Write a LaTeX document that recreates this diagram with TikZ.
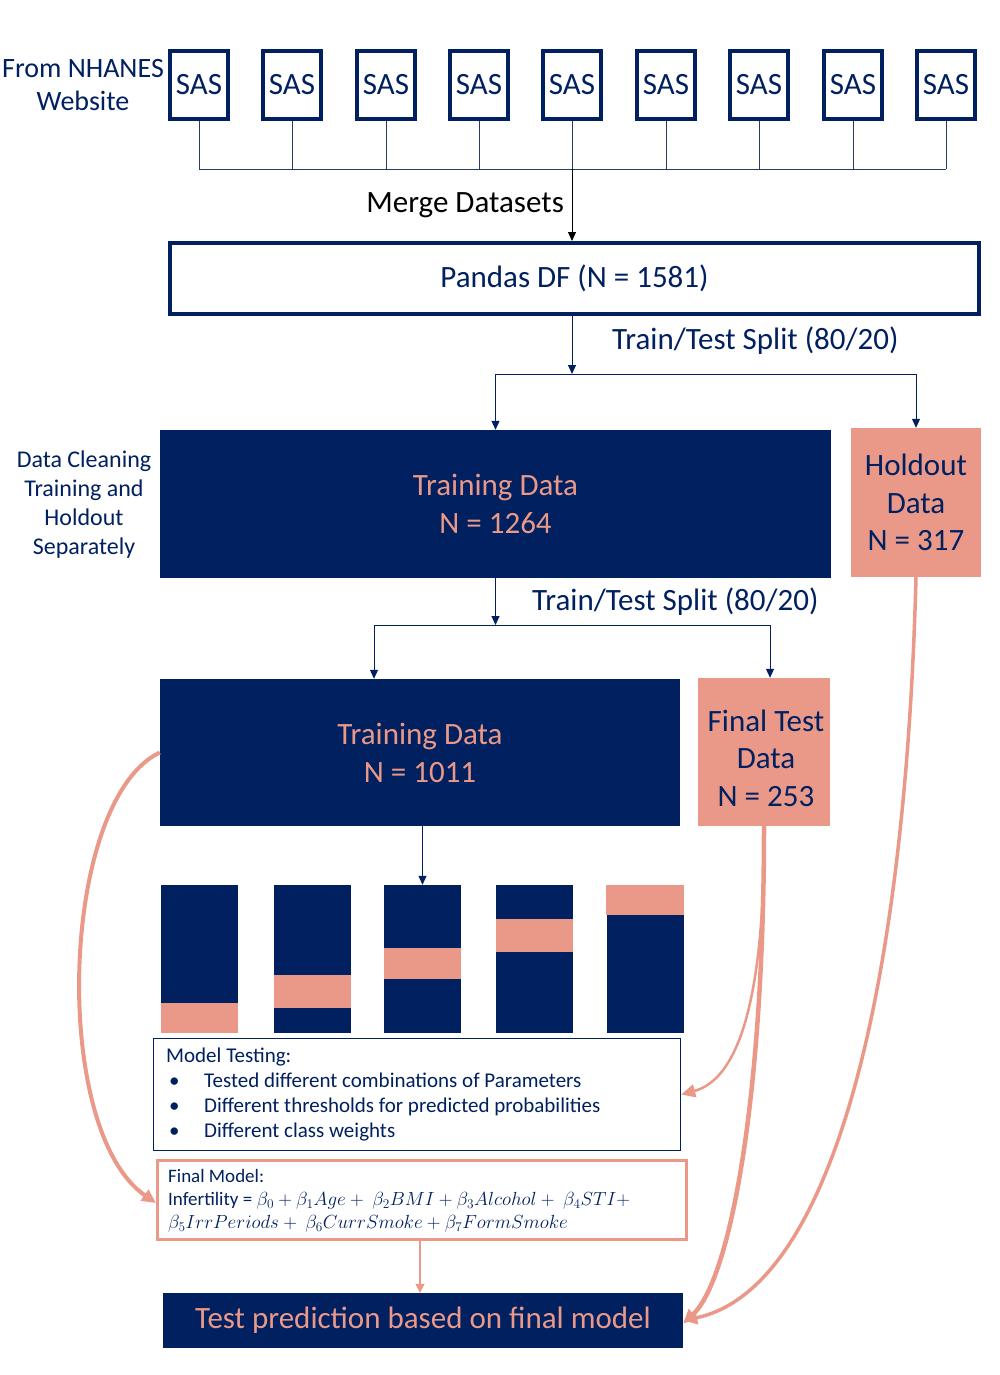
\RequirePackage{fix-cm}
\documentclass[tikz,border=0pt]{standalone}
\usepackage{fontspec}
\setmainfont{Carlito}
\usetikzlibrary{arrows.meta}
\definecolor{navy}{RGB}{0,32,96}
\definecolor{salmon}{RGB}{234,153,136}
\newcommand{\fsz}[2]{\fontsize{#1}{#2}\selectfont}
\tikzset{
  sasbox/.style={draw=navy, line width=4pt, minimum width=58pt, minimum height=68pt, inner sep=0pt, text=navy, font=\fsz{31}{34}},
  navyfill/.style={fill=navy, text=salmon, inner sep=0pt, align=center},
  salfill/.style={fill=salmon, text=navy, inner sep=0pt, align=center},
  foldbox/.style={fill=navy, minimum width=77pt, minimum height=148pt, inner sep=0pt},
  navtext/.style={text=navy, align=center, inner sep=0pt},
  navarrow/.style={draw=navy, line width=1pt, -{Triangle[length=9pt,width=8pt]}},
  busline/.style={draw=navy!70!gray, line width=0.9pt},
  salcurve/.style={draw=salmon, -{Triangle[length=14pt,width=13pt]}},
}
\begin{document}
\begin{tikzpicture}[x=1pt,y=-1pt]
\useasboundingbox[fill=white] (0,0) rectangle (1000,1375);

% left labels
\node[navtext, font=\fsz{28}{33}] (src) at (83,85) {From NHANES\\Website};
\node[navtext, font=\fsz{24}{29}] (clean) at (84,505) {Data Cleaning\\Training and\\Holdout\\Separately};

% SAS boxes
\foreach \i/\x in {1/199,2/292,3/386,4/479,5/572,6/666,7/759,8/853,9/946}{
  \node[sasbox] (s\i) at (\x,85) {SAS};
}
\coordinate (busL) at (199,169);
\coordinate (busR) at (946,169);
\draw[busline] (busL) -- (busR);
\foreach \i in {1,...,9}{
  \draw[busline] (s\i.south) -- (s\i.south |- busL);
}

% Pandas
\node[draw=navy, line width=4pt, minimum width=809pt, minimum height=71pt, inner sep=0pt, text=navy, font=\fsz{31}{34}] (pandas) at (574.5,278.5) {Pandas DF (N = 1581)};
\draw[black, line width=1pt, -{Triangle[length=9pt,width=8pt]}] (s5.south |- busL) -- (s5.south |- pandas.north);
\node[anchor=east, text=black, inner sep=0pt, font=\fsz{31}{34}] (merge) at (564,205) {Merge Datasets};

% first split
\coordinate (split1) at (572,374);
\draw[navarrow] (s5.south |- pandas.south) -- (split1);
\node[anchor=west, navtext, font=\fsz{31}{34}] (lab1) at (612,341) {Train/Test Split (80/20)};

\node[navyfill, minimum width=671pt, minimum height=148pt, font=\fsz{31}{38}] (train1) at (495.5,504) {Training Data\\N = 1264};
\node[salfill, minimum width=130pt, minimum height=149pt, font=\fsz{31}{37.5}] (holdout) at (916,502.5) {Holdout\\Data\\N = 317};
\draw[navarrow] (split1) -| (train1.north);
\draw[navarrow] (split1) -| (holdout.north);

% second split
\coordinate (split2) at (495.5,625);
\draw[navarrow] (train1.south) -- (split2);
\node[anchor=west, navtext, font=\fsz{31}{34}] (lab2) at (532,602) {Train/Test Split (80/20)};

\node[navyfill, minimum width=520pt, minimum height=147pt, font=\fsz{31}{38}] (train2) at (420,752.5) {Training Data\\N = 1011};
\node[salfill, minimum width=132pt, minimum height=148pt] (final) at (764,752) {};
\node[navtext, font=\fsz{31}{37.5}] (finaltext) at (766,758) {Final Test\\Data\\N = 253};
\draw[navarrow] (split2) -| ([xshift=-46pt]train2.north);
\draw[navarrow] (split2) -| ([xshift=6pt]final.north);

% folds
\node[foldbox] (f1) at (199.5,959) {};
\node[foldbox] (f2) at (312.5,959) {};
\node[foldbox] (f3) at (422.5,959) {};
\node[foldbox] (f4) at (534.5,959) {};
\node[foldbox] (f5) at (645,959) {};
\fill[salmon] (f1.south west) rectangle ([yshift=30pt]f1.south east);
\fill[salmon] ([yshift=25pt]f2.south west) rectangle ([yshift=58pt]f2.south east);
\fill[salmon] ([yshift=54pt]f3.south west) rectangle ([yshift=85pt]f3.south east);
\fill[salmon] ([yshift=81pt]f4.south west) rectangle ([yshift=114pt]f4.south east);
\fill[salmon] (f5.north west) rectangle ([yshift=-30pt]f5.north east);
\draw[navarrow] (f3.north |- train2.south) -- (f3.north);

% model testing
\node[draw=navy, line width=1.5pt, minimum width=527pt, minimum height=112pt, inner sep=0pt] (mt) at (417,1094.5) {};
\node[anchor=north west, text=navy, align=left, inner sep=0pt, font=\fsz{21}{25}] (mttext) at (166,1048)
 {Model Testing:\\
  \hspace*{3pt}\makebox[35pt][l]{\textbullet}Tested different combinations of Parameters\\
  \hspace*{3pt}\makebox[35pt][l]{\textbullet}Different thresholds for predicted probabilities\\
  \hspace*{3pt}\makebox[35pt][l]{\textbullet}Different class weights};

% final model
\node[draw=salmon, line width=3pt, minimum width=529pt, minimum height=79pt, inner sep=0pt] (fm) at (422,1200) {};
\node[anchor=north west, text=navy, align=left, inner sep=0pt, font=\fsz{19}{23}] (fmtext) at (168,1169)
 {Final Model:\\
  Infertility = $\beta_0+\beta_1 Age+\ \beta_2 BMI+\beta_3 Alcohol+\ \beta_4 STI+$\\
  $\beta_5 IrrPeriods+\ \beta_6 CurrSmoke+\beta_7 FormSmoke$};

% bottom
\node[navyfill, minimum width=520pt, minimum height=55pt, font=\fsz{31}{34}] (pred) at (423,1320.5) {Test prediction based on final model};
\draw[draw=salmon, line width=1.3pt, -{Triangle[length=9pt,width=9pt]}] (fm.south -| 420,0) -- (pred.north -| 420,0);

% curved arrows
\draw[salcurve, line width=4pt] (train2.west) .. controls (60,800) and (50,1130) .. ([yshift=-3pt]fm.west);
\draw[salcurve, line width=2.5pt] (final.south) .. controls (765,1010) and (735,1080) .. (mt.east);
\draw[salcurve, line width=4.5pt] (final.south) .. controls (764,1100) and (730,1280) .. ([yshift=-3pt]pred.east);
\draw[salcurve, line width=3.5pt] (holdout.south) .. controls (905,1000) and (830,1290) .. (pred.east);
\end{tikzpicture}
\end{document}
